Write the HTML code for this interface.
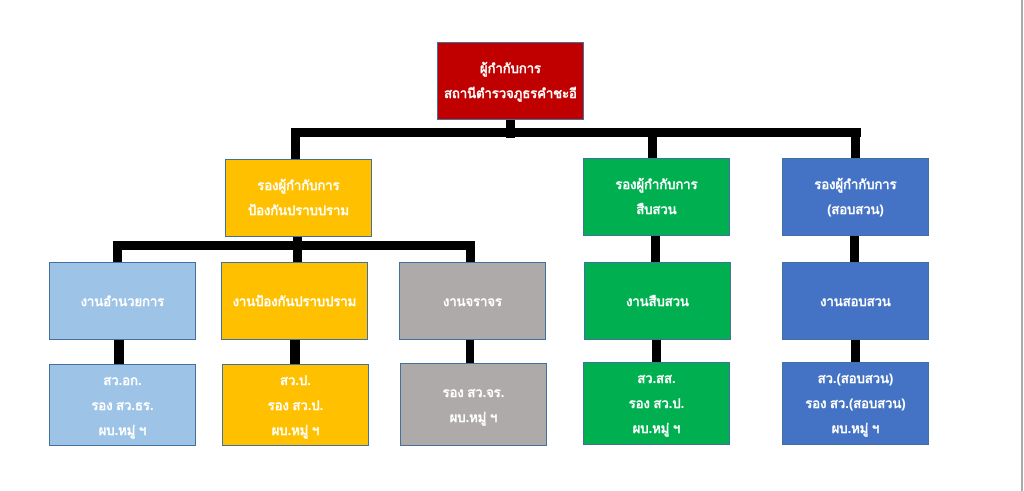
<!DOCTYPE html>
<html><head><meta charset="utf-8"><style>
body{margin:0;width:1024px;height:491px;background:#fff;position:relative;overflow:hidden;font-family:"Liberation Sans","DejaVu Sans",sans-serif;}
.b{position:absolute;box-sizing:border-box;border:1.5px solid #41719c;color:#fff;font-size:13px;font-weight:bold;display:flex;align-items:center;justify-content:center;text-align:center;line-height:25px;}
.l{position:absolute;background:#000;}
</style></head><body>
<div style="position:absolute;left:1021px;top:0;width:2px;height:491px;background:#aaa"></div>
<div class="l" style="left:506px;top:118px;width:9px;height:20px"></div>
<div class="l" style="left:291px;top:128px;width:570px;height:9px"></div>
<div class="l" style="left:291px;top:128px;width:9px;height:33px"></div>
<div class="l" style="left:648px;top:128px;width:9px;height:33px"></div>
<div class="l" style="left:851px;top:128px;width:9px;height:33px"></div>
<div class="l" style="left:293px;top:234px;width:9px;height:15px"></div>
<div class="l" style="left:113px;top:241px;width:362px;height:9px"></div>
<div class="l" style="left:113px;top:241px;width:9px;height:23px"></div>
<div class="l" style="left:293px;top:241px;width:9px;height:23px"></div>
<div class="l" style="left:466px;top:241px;width:9px;height:23px"></div>
<div class="l" style="left:651px;top:234px;width:9px;height:30px"></div>
<div class="l" style="left:850px;top:234px;width:9px;height:30px"></div>
<div class="l" style="left:114px;top:338px;width:10px;height:28px"></div>
<div class="l" style="left:290px;top:338px;width:10px;height:28px"></div>
<div class="l" style="left:466px;top:338px;width:8px;height:26px"></div>
<div class="l" style="left:652px;top:338px;width:9px;height:26px"></div>
<div class="l" style="left:851px;top:338px;width:9px;height:26px"></div>

<div class="b" style="left:437px;top:42px;width:147px;height:78px;background:#c00000">ผู้กำกับการ<br>สถานีตำรวจภูธรคำชะอี</div>
<div class="b" style="left:225px;top:159px;width:147px;height:78px;background:#ffc000">รองผู้กำกับการ<br>ป้องกันปราบปราม</div>
<div class="b" style="left:583px;top:158px;width:147px;height:78px;background:#00b050">รองผู้กำกับการ<br>สืบสวน</div>
<div class="b" style="left:782px;top:158px;width:147px;height:78px;background:#4472c4">รองผู้กำกับการ<br>(สอบสวน)</div>

<div class="b" style="left:49px;top:262px;width:147px;height:78px;background:#9dc3e6">งานอำนวยการ</div>
<div class="b" style="left:221px;top:262px;width:147px;height:78px;background:#ffc000">งานป้องกันปราบปราม</div>
<div class="b" style="left:399px;top:262px;width:147px;height:78px;background:#aeaaaa">งานจราจร</div>
<div class="b" style="left:584px;top:262px;width:147px;height:78px;background:#00b050">งานสืบสวน</div>
<div class="b" style="left:782px;top:262px;width:147px;height:78px;background:#4472c4">งานสอบสวน</div>

<div class="b" style="left:49px;top:364px;width:147px;height:82px;background:#9dc3e6">สว.อก.<br>รอง สว.ธร.<br>ผบ.หมู่ ฯ</div>
<div class="b" style="left:222px;top:364px;width:147px;height:82px;background:#ffc000">สว.ป.<br>รอง สว.ป.<br>ผบ.หมู่ ฯ</div>
<div class="b" style="left:400px;top:363px;width:147px;height:83px;background:#aeaaaa">รอง สว.จร.<br>ผบ.หมู่ ฯ</div>
<div class="b" style="left:583px;top:362px;width:147px;height:83px;background:#00b050">สว.สส.<br>รอง สว.ป.<br>ผบ.หมู่ ฯ</div>
<div class="b" style="left:782px;top:362px;width:147px;height:83px;background:#4472c4">สว.(สอบสวน)<br>รอง สว.(สอบสวน)<br>ผบ.หมู่ ฯ</div>
</body></html>
